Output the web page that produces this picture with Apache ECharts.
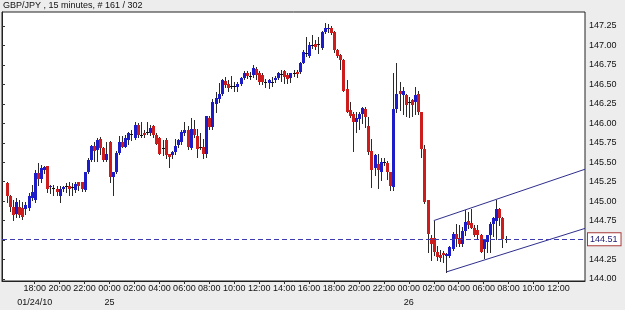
<!DOCTYPE html>
<html><head><meta charset="utf-8">
<script src="https://cdn.jsdelivr.net/npm/echarts@6/dist/echarts.min.js"></script>
<style>html,body{margin:0;padding:0;background:#ededed}#c{width:625px;height:310px}</style>
</head><body><div id="c"></div>
<script>
const titleText = 'GBP/JPY , 15 minutes, # 161 / 302';
// 15-minute slots on the category axis: 01/24 15:30 .. 01/26 14:00
const slotStart = '01/24 15:30';
const slotCount = 187;
const firstBarSlot = 1; // first candle = 01/24 15:45
const labelFrom = '01/24 18:00';
const labelTo = '01/26 12:00';
const dateLabels = { '01/24 18:00': '01/24/10', '01/25 00:00': '25', '01/26 00:00': '26' };
const yTicks = [144.00, 144.25, 144.50, 144.75, 145.00, 145.25, 145.50, 145.75, 146.00, 146.25, 146.50, 146.75, 147.00, 147.25];
const lastPrice = 144.51;

const opens = [
145.23,145.07,144.93,144.84,144.93,144.91,144.90,144.91,145.04,145.01,
145.36,145.29,145.40,145.45,145.18,145.17,145.16,145.06,145.15,145.19,
145.19,145.18,145.14,145.24,145.24,145.14,145.37,145.53,145.71,145.66,
145.80,145.68,145.53,145.76,145.31,145.38,145.62,145.76,145.70,145.79,
145.86,145.81,145.98,145.85,145.87,145.89,145.87,145.96,145.85,145.81,
145.68,145.79,145.61,145.59,145.63,145.72,145.76,145.87,145.92,145.68,
145.93,145.84,145.70,145.70,145.61,146.07,145.95,146.25,146.31,146.38,
146.54,146.51,146.48,146.48,146.47,146.51,146.58,146.65,146.61,146.62,
146.70,146.64,146.62,146.53,146.52,146.53,146.55,146.58,146.63,146.67,
146.62,146.58,146.64,146.66,146.66,146.78,146.90,146.87,147.01,147.02,
147.02,146.97,147.17,147.21,147.22,147.17,146.94,146.88,146.81,146.44,
146.17,146.12,146.02,146.06,146.12,146.19,145.97,145.64,145.42,145.48,
145.38,145.50,145.49,145.38,145.18,146.18,146.41,146.37,146.36,146.27,
146.30,146.27,146.38,146.14,145.67,145.01,144.53,144.53,144.35,144.31,
144.33,144.30,144.30,144.39,144.58,144.53,144.45,144.61,144.74,144.72,
144.66,144.63,144.57,144.39,144.48,144.56,144.70,144.74,144.90,144.78,
144.52];
const closes = [
145.06,144.93,144.82,144.99,144.82,144.80,144.95,145.06,145.12,145.36,
145.29,145.42,145.44,145.16,145.19,145.17,145.12,145.16,145.18,145.19,
145.16,145.18,145.22,145.19,145.15,145.37,145.53,145.71,145.65,145.79,
145.68,145.53,145.61,145.31,145.38,145.62,145.76,145.69,145.81,145.87,
145.86,145.98,145.85,145.85,145.85,145.89,145.94,145.85,145.74,145.61,
145.68,145.59,145.57,145.63,145.71,145.78,145.89,145.92,145.70,145.93,
145.85,145.67,145.70,145.61,146.09,145.95,146.28,146.32,146.38,146.55,
146.49,146.45,146.48,146.48,146.51,146.58,146.65,146.61,146.61,146.71,
146.62,146.53,146.53,146.53,146.55,146.53,146.58,146.64,146.63,146.60,
146.57,146.64,146.64,146.63,146.78,146.92,146.90,147.00,147.01,146.98,
147.02,147.17,147.22,147.22,147.16,146.94,146.87,146.81,146.42,146.15,
146.10,146.02,146.07,146.12,146.20,146.08,145.63,145.40,145.59,145.40,
145.50,145.50,145.38,145.20,146.18,146.38,146.38,146.42,146.23,146.27,
146.23,146.37,146.15,145.67,144.99,144.58,144.45,144.35,144.28,144.27,
144.31,144.32,144.41,144.58,144.52,144.45,144.61,144.73,144.69,144.66,
144.57,144.56,144.35,144.50,144.56,144.70,144.78,144.90,144.78,144.52,
144.51];
const highs = [
145.25,145.08,145.01,145.04,145.02,144.99,144.99,145.10,145.21,145.40,
145.49,145.46,145.45,145.45,145.21,145.21,145.19,145.19,145.20,145.23,
145.24,145.23,145.25,145.25,145.25,145.38,145.55,145.72,145.76,145.81,
145.82,145.69,145.76,145.77,145.38,145.64,145.84,145.84,145.85,145.89,
145.91,146.02,146.00,146.02,145.92,146.02,145.98,145.98,145.87,145.83,
145.79,145.81,145.61,145.64,145.80,145.80,145.91,146.02,145.97,146.07,
146.04,145.93,145.88,145.80,146.10,146.09,146.31,146.40,146.52,146.57,
146.60,146.55,146.61,146.53,146.53,146.60,146.67,146.67,146.66,146.75,
146.72,146.67,146.64,146.57,146.57,146.60,146.61,146.66,146.68,146.68,
146.65,146.65,146.69,146.69,146.79,146.94,147.11,147.04,147.14,147.07,
147.11,147.19,147.29,147.27,147.25,147.18,146.96,146.89,146.83,146.55,
146.27,146.15,146.15,146.15,146.21,146.21,146.08,145.80,145.61,145.61,
145.55,145.55,145.51,145.38,146.65,146.77,146.53,146.47,146.38,146.34,
146.31,146.47,146.41,146.15,145.72,145.01,144.56,144.75,144.43,144.37,
144.36,144.34,144.43,144.60,144.71,144.69,144.67,144.88,144.86,144.90,
144.69,144.69,144.58,144.52,144.56,144.73,144.79,145.01,144.91,144.79,
144.55];
const lows = [
144.99,144.87,144.76,144.80,144.80,144.77,144.84,144.89,145.01,144.99,
145.21,145.25,145.36,145.12,145.10,145.08,145.08,144.99,145.13,145.12,
145.08,145.08,145.12,145.14,145.13,145.13,145.36,145.51,145.51,145.51,
145.61,145.51,145.51,145.25,145.08,145.36,145.61,145.69,145.69,145.74,
145.79,145.80,145.83,145.82,145.82,145.86,145.85,145.83,145.74,145.61,
145.59,145.55,145.44,145.55,145.61,145.70,145.74,145.85,145.67,145.67,
145.82,145.57,145.67,145.55,145.57,145.93,145.93,146.15,146.27,146.36,
146.47,146.42,146.45,146.42,146.41,146.49,146.57,146.58,146.57,146.60,
146.57,146.50,146.50,146.47,146.45,146.48,146.53,146.57,146.54,146.52,
146.52,146.53,146.61,146.60,146.64,146.77,146.87,146.85,146.97,146.96,
146.90,146.95,147.16,147.17,147.15,146.92,146.85,146.70,146.41,146.15,
146.08,145.64,145.89,145.93,146.00,145.95,145.61,145.18,145.33,145.17,
145.27,145.46,145.29,145.14,145.14,146.15,146.17,146.12,146.10,146.08,
146.10,146.12,146.12,145.57,144.97,144.35,144.24,144.31,144.24,144.23,
144.22,144.09,144.28,144.37,144.43,144.43,144.43,144.57,144.66,144.65,
144.55,144.52,144.35,144.27,144.35,144.35,144.55,144.51,144.69,144.41,
144.48];

// channel trend lines: [slot position (0..187 across the axis), price]
const channelUpper = [[138.5, 144.75], [187, 145.41]];
const channelLower = [[142.5, 144.09], [187, 144.65]];

const UP = '#1c1cc8', DOWN = '#cc1c1c', WICK = '#2a2a2a';

// build category labels
const slots = [];
(function(){
  const day0 = parseInt(slotStart.slice(3,5),10);
  const m0 = parseInt(slotStart.slice(6,8),10)*60 + parseInt(slotStart.slice(9,11),10);
  for (let i=0;i<slotCount;i++){
    const t = m0 + i*15;
    const d = day0 + Math.floor(t/1440);
    const hh = Math.floor((t%1440)/60), mm = t%60;
    slots.push('01/' + String(d).padStart(2,'0') + ' ' + String(hh).padStart(2,'0') + ':' + String(mm).padStart(2,'0'));
  }
})();
const iFrom = slots.indexOf(labelFrom), iTo = slots.indexOf(labelTo);
function showTick(idx, val){
  if (idx < iFrom || idx > iTo) return false;
  const hh = parseInt(val.slice(6,8),10);
  return val.slice(9,11) === '00' && hh % 2 === 0;
}
function showDate(idx, val){ return dateLabels[val] !== undefined; }

const candles = opens.map((o,i)=>[i+firstBarSlot, o, closes[i], lows[i], highs[i]]);

const chart = echarts.init(document.getElementById('c'), null, {renderer:'canvas'});
chart.setOption({
  animation:false,
  backgroundColor:'#ededed',
  textStyle:{fontFamily:'"Liberation Sans", Arial, sans-serif'},
  title:{text:titleText, left:3, top:1, padding:0, textStyle:{fontSize:9, fontWeight:'normal', color:'#111'}},
  grid:{left:2, right:40, top:12, bottom:29, show:true, containLabel:false, outerBoundsMode:'none', backgroundColor:'#fff', borderColor:'#222', borderWidth:1},
  xAxis:[{
    type:'category', data:slots, boundaryGap:true,
    axisLine:{show:true, lineStyle:{color:'#222'}},
    axisTick:{show:true, alignWithLabel:true, interval:showTick, length:3, lineStyle:{color:'#333'}},
    axisLabel:{interval:showTick, fontSize:9, color:'#111', margin:3,
      showMinLabel:true, showMaxLabel:true, hideOverlap:false,
      formatter:function(v){ return v.slice(6); }},
    splitLine:{show:false}
  },{
    type:'value', min:0, max:slotCount, show:false
  },{
    type:'category', data:slots, boundaryGap:true, position:'bottom',
    axisLine:{show:false}, axisTick:{show:false}, splitLine:{show:false},
    axisLabel:{interval:showDate, fontSize:9, color:'#111', margin:17,
      showMinLabel:true, showMaxLabel:true, hideOverlap:false,
      formatter:function(v){ return dateLabels[v] || ''; }}
  }],
  yAxis:{
    type:'value', position:'right', min:143.974, max:147.43,
    splitLine:{show:false},
    axisLine:{show:true, lineStyle:{color:'#222'}},
    axisTick:{show:true, length:3, customValues:yTicks, lineStyle:{color:'#333'}},
    axisLabel:{customValues:yTicks, fontSize:9, color:'#111', margin:4, formatter:v=>v.toFixed(2)}
  },
  series:[{
    type:'custom', xAxisIndex:0, yAxisIndex:0, data:candles, encode:{x:0, y:[1,2,3,4]}, clip:true,
    renderItem:function(params, api){
      const idx=api.value(0), o=api.value(1), c=api.value(2), l=api.value(3), h=api.value(4);
      const top=api.coord([idx, Math.max(o,c)]), bot=api.coord([idx, Math.min(o,c)]);
      const hi=api.coord([idx,h]), lo=api.coord([idx,l]);
      const cx=Math.round(top[0]);
      const kids=[{type:'line', shape:{x1:cx+0.5,y1:Math.round(hi[1]),x2:cx+0.5,y2:Math.round(lo[1])+1}, style:{stroke:WICK, lineWidth:1}}];
      const y1=Math.round(top[1]), y2=Math.round(bot[1]);
      if (y2-y1<1) kids.push({type:'line', shape:{x1:cx-1,y1:y1+0.5,x2:cx+2,y2:y1+0.5}, style:{stroke:'#111', lineWidth:1}});
      else kids.push({type:'rect', shape:{x:cx-1,y:y1,width:3,height:y2-y1}, style:{fill: c>o?UP:DOWN}});
      return {type:'group', children:kids};
    }
  },{
    type:'line', xAxisIndex:1, yAxisIndex:0, data:channelUpper, symbol:'none', lineStyle:{color:'#2e2e8c', width:1}, z:3,
    markLine:{silent:true, symbol:['none','none'], data:[{yAxis:lastPrice}],
      lineStyle:{type:[5,3], color:'#3c3cb0', width:1},
      label:{show:true, position:'end', formatter:lastPrice.toFixed(2), fontSize:9, color:'#20207a', backgroundColor:'#fff', borderColor:'#a83a3a', borderWidth:1, padding:[2,3,1,2], distance:3}}
  },{
    type:'line', xAxisIndex:1, yAxisIndex:0, data:channelLower, symbol:'none', lineStyle:{color:'#2e2e8c', width:1}, z:3
  }]
});
</script></body></html>
